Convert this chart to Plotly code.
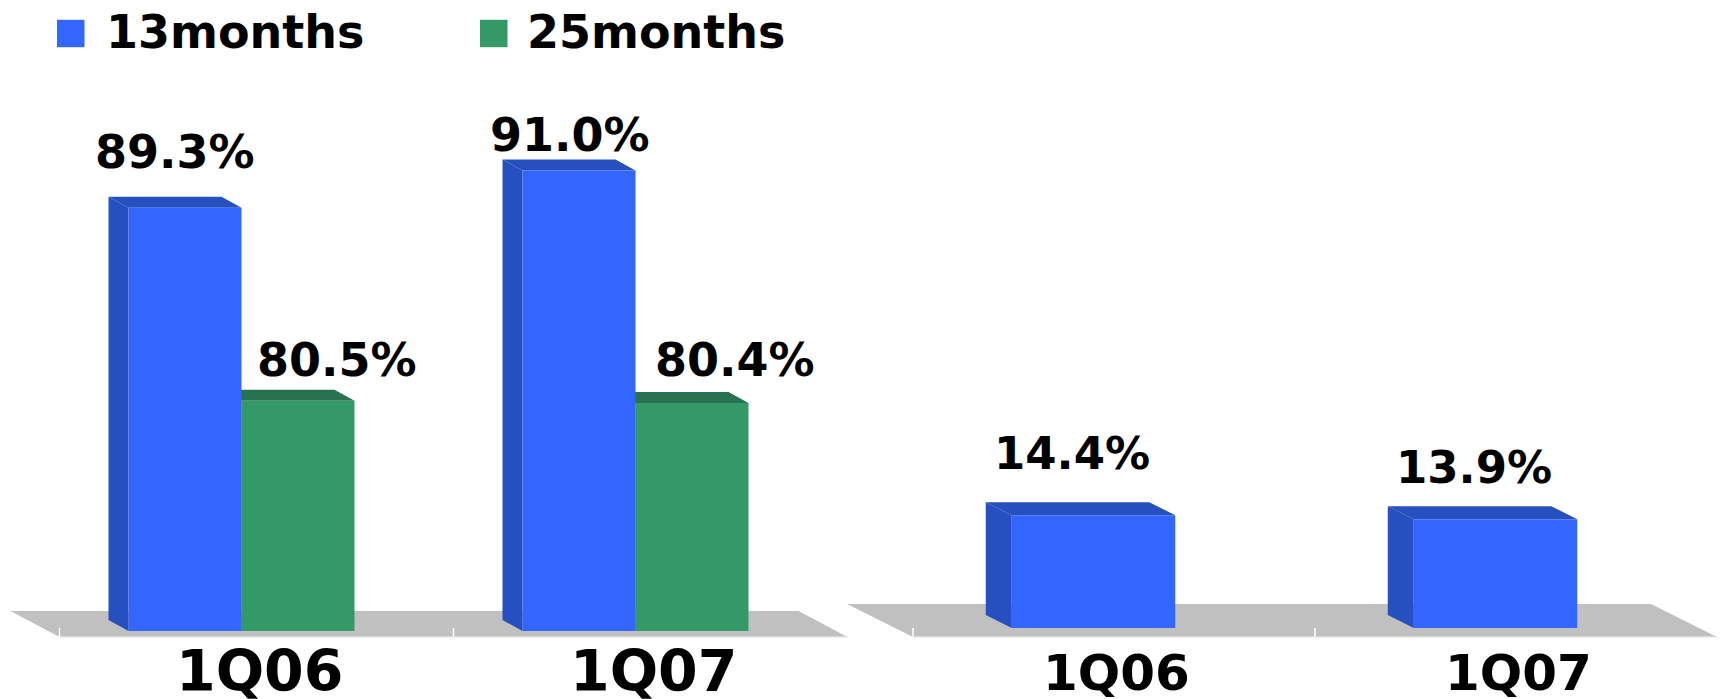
import plotly.graph_objects as go

# ---- data ----
categories = ["1Q06", "1Q07"]
series_names = ["13months", "25months"]
persistency_13m = [89.3, 91.0]
persistency_25m = [80.5, 80.4]
lapse_13m = [14.4, 13.9]

# ---- style ----
FIG_W, FIG_H = 1722, 699
BLUE, BLUE_DARK = "#3366FF", "#264FBF"
GREEN, GREEN_DARK = "#339966", "#277351"
FLOOR, FLOOR_EDGE = "#C0C0C0", "#E6E6E6"
FONT = "DejaVu Sans"

# Panel geometry (pixels): horizontal span of the subplot, category 0 centre,
# pixels per category, value at the baseline, baseline row, pixels per value unit,
# bar width and 3D depth settings.  The two spans overlap so neither floor is clipped.
panels = {
    "left": dict(xa="x", ya="y", span=(0, 870), cx0=241.5, cpx=394,
                 base=70, base_py=631, vpx=21.93, bar_px=113,
                 bar_depth=(20, 11), floor_depth=(49, 26), floor_front=(15, 6),
                 label_size=57, label_shift=(17.5, 671)),
    "right": dict(xa="x2", ya="y2", span=(830, 1722), cx0=1093.5, cpx=402,
                  base=0, base_py=628, vpx=7.83, bar_px=163.5,
                  bar_depth=(26, 13), floor_depth=(66, 33), floor_front=(20.5, 9),
                  label_size=50, label_shift=(22.5, 673)),
}

# value-label nudges (pixels, x right / y up) relative to the bar's top-front centre
label_nudges = {
    "left_13": [(-10, 56), (-9.5, 35)],
    "left_25": [(38.5, 41), (43, 43)],
    "right_13": [(-22, 62), (-21.5, 52)],
}


def axis_ranges(p):
    s0, s1 = p["span"]
    xr = [(s0 - p["cx0"]) / p["cpx"], (s1 - p["cx0"]) / p["cpx"]]
    yr = [p["base"] - (FIG_H - p["base_py"]) / p["vpx"], p["base"] + p["base_py"] / p["vpx"]]
    return xr, yr


def prism_faces(p, x0, x1, bottom, top, dark):
    """Side and top faces of a bar, drawn behind the bar's front face."""
    ddx = -p["bar_depth"][0] / p["cpx"]
    ddy = p["bar_depth"][1] / p["vpx"]
    common = dict(type="path", xref=p["xa"], yref=p["ya"], fillcolor=dark,
                  line=dict(width=0), layer="below")
    side = f"M{x0},{bottom} L{x0},{top} L{x0 + ddx},{top + ddy} L{x0 + ddx},{bottom + ddy} Z"
    cap = f"M{x0},{top} L{x1},{top} L{x1 + ddx},{top + ddy} L{x0 + ddx},{top + ddy} Z"
    return [dict(path=side, **common), dict(path=cap, **common)]


def floor_shapes(p, n):
    fx, fdrop = p["floor_front"]
    dpx, dpy = p["floor_depth"]
    shift = fx / p["cpx"]
    xa, xb = -0.5 + shift, n - 0.5 + shift
    y_front = p["base"] - fdrop / p["vpx"]
    y_back = y_front + dpy / p["vpx"]
    back = dpx / p["cpx"]
    shapes = [dict(type="path", xref=p["xa"], yref=p["ya"], layer="below",
                   path=f"M{xa},{y_front} L{xb},{y_front} L{xb - back},{y_back} L{xa - back},{y_back} Z",
                   fillcolor=FLOOR, line=dict(width=0))]
    shapes.append(dict(type="line", xref=p["xa"], yref=p["ya"], layer="below",
                       x0=xa, x1=xb, y0=y_front, y1=y_front,
                       line=dict(color=FLOOR_EDGE, width=1.5)))
    for k in range(n):
        xt = k - 0.5 + shift
        shapes.append(dict(type="line", xref=p["xa"], yref=p["ya"], layer="below",
                           x0=xt, x1=xt, y0=y_front, y1=y_front + 9 / p["vpx"],
                           line=dict(color="#FFFFFF", width=1.5)))
    return shapes


fig = go.Figure()
shapes, annotations = [], []

L, R = panels["left"], panels["right"]
n = len(categories)
idx = list(range(n))

shapes += floor_shapes(L, n)
shapes += floor_shapes(R, n)

# left panel: grouped 13/25-month bars on a truncated axis
bw_l = L["bar_px"] / L["cpx"]
left_series = [
    (series_names[0], persistency_13m, BLUE, BLUE_DARK, -bw_l, "left_13"),
    (series_names[1], persistency_25m, GREEN, GREEN_DARK, 0.0, "left_25"),
]
for name, vals, col, dark, off, key in left_series:
    fig.add_trace(go.Bar(
        x=idx, y=[v - L["base"] for v in vals], base=L["base"],
        offset=off, width=bw_l, marker=dict(color=col, line=dict(width=0)),
        name=name, xaxis="x", yaxis="y", showlegend=False,
        customdata=vals, hovertemplate="%{customdata:.1f}%<extra>" + name + "</extra>"))
    for i, v in enumerate(vals):
        shapes += prism_faces(L, i + off, i + off + bw_l, L["base"], v, dark)
        nx, ny = label_nudges[key][i]
        annotations.append(dict(
            x=i + off + bw_l / 2, y=v, xref="x", yref="y", text=f"{v:.1f}%",
            showarrow=False, xanchor="center", yanchor="middle", xshift=nx, yshift=ny,
            font=dict(family=FONT, size=46, color="#000000", weight="bold")))

# right panel: 13-month bars from zero
bw_r = R["bar_px"] / R["cpx"]
fig.add_trace(go.Bar(
    x=idx, y=lapse_13m, offset=-bw_r / 2, width=bw_r,
    marker=dict(color=BLUE, line=dict(width=0)), name=series_names[0],
    xaxis="x2", yaxis="y2", showlegend=False,
    hovertemplate="%{y:.1f}%<extra>" + series_names[0] + "</extra>"))
for i, v in enumerate(lapse_13m):
    shapes += prism_faces(R, i - bw_r / 2, i + bw_r / 2, R["base"], v, BLUE_DARK)
    nx, ny = label_nudges["right_13"][i]
    annotations.append(dict(
        x=i, y=v, xref="x2", yref="y2", text=f"{v:.1f}%",
        showarrow=False, xanchor="center", yanchor="middle", xshift=nx, yshift=ny,
        font=dict(family=FONT, size=45, color="#000000", weight="bold")))

# category labels under each floor
for p in (L, R):
    sx, py = p["label_shift"]
    for i, c in enumerate(categories):
        annotations.append(dict(
            x=i, y=1 - py / FIG_H, xref=p["xa"], yref="paper", text=c,
            showarrow=False, xanchor="center", yanchor="middle", xshift=sx,
            font=dict(family=FONT, size=p["label_size"], color="#000000", weight="bold")))

# legend: coloured squares with series names
legend_items = [(series_names[0], BLUE, 57, 104), (series_names[1], GREEN, 480, 525)]
for name, col, sq_x, tx in legend_items:
    shapes.append(dict(type="rect", xref="paper", yref="paper",
                       x0=sq_x / FIG_W, x1=(sq_x + 27.5) / FIG_W,
                       y0=1 - 47.2 / FIG_H, y1=1 - 19.8 / FIG_H,
                       fillcolor=col, line=dict(width=0)))
    annotations.append(dict(
        x=tx / FIG_W, y=1 - 32 / FIG_H, xref="paper", yref="paper", text=name,
        showarrow=False, xanchor="left", yanchor="middle",
        font=dict(family=FONT, size=46, color="#000000", weight="bold")))

xr_l, yr_l = axis_ranges(L)
xr_r, yr_r = axis_ranges(R)
hidden = dict(visible=False, showgrid=False, zeroline=False, fixedrange=True)

fig.update_layout(
    width=FIG_W, height=FIG_H,
    margin=dict(l=0, r=0, t=0, b=0),
    paper_bgcolor="#FFFFFF", plot_bgcolor="rgba(0,0,0,0)",
    barmode="overlay", showlegend=False,
    xaxis=dict(domain=[L["span"][0] / FIG_W, L["span"][1] / FIG_W], range=xr_l, **hidden),
    yaxis=dict(domain=[0, 1], range=yr_l, **hidden),
    xaxis2=dict(domain=[R["span"][0] / FIG_W, R["span"][1] / FIG_W], range=xr_r, anchor="y2", **hidden),
    yaxis2=dict(domain=[0, 1], range=yr_r, anchor="x2", **hidden),
    shapes=shapes, annotations=annotations,
)

fig.write_html("out.html")
